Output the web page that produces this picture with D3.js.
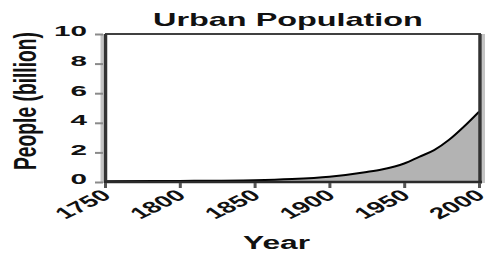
<!DOCTYPE html>
<html><head><meta charset="utf-8">
<script src="https://cdn.jsdelivr.net/npm/d3@7"></script>
<style>body{margin:0;background:#fff}svg{display:block}text{font-family:"Liberation Sans",Arial,sans-serif;font-weight:bold;fill:#111}</style>
</head><body>
<svg id="c" width="491" height="253"></svg>
<script>
const title = "Urban Population";
const xTitle = "Year";
const yTitle = "People (billion)";
const years = [1750, 1800, 1850, 1875, 1900, 1925, 1935, 1950, 1960, 1970, 1980, 1990, 2000];
const population = [0.05, 0.07, 0.12, 0.2, 0.36, 0.68, 0.85, 1.25, 1.7, 2.15, 2.85, 3.75, 4.75];
const xTicks = [1750, 1800, 1850, 1900, 1950, 2000];
const yTicks = [0, 2, 4, 6, 8, 10];

const svg = d3.select("#c");
const L = 105, R = 479, T = 34, B = 182;
const x = d3.scaleLinear().domain([1750, 2000]).range([L, R]);
const y = d3.scaleLinear().domain([0, 10]).range([B, T]);
const data = years.map((yr, i) => ({yr, v: population[i]}));

// area + line
svg.append("path").datum(data)
  .attr("d", d3.area().x(d => x(d.yr)).y0(y(0)).y1(d => y(d.v)).curve(d3.curveMonotoneX))
  .attr("fill", "#b3b3b3");
svg.append("path").datum(data)
  .attr("d", d3.line().x(d => x(d.yr)).y(d => y(d.v)).curve(d3.curveMonotoneX))
  .attr("fill", "none").attr("stroke", "#000").attr("stroke-width", 2);

// frame
svg.append("line").attr("x1", L).attr("x2", R + 2).attr("y1", T).attr("y2", T).attr("stroke", "#000").attr("stroke-width", 1.6);
svg.append("line").attr("x1", L - 3).attr("x2", L - 3).attr("y1", T).attr("y2", B + 1).attr("stroke", "#c4c4c4").attr("stroke-width", 3);
svg.append("line").attr("x1", L + 0.5).attr("x2", L + 0.5).attr("y1", T).attr("y2", B + 1).attr("stroke", "#333").attr("stroke-width", 3.5);
svg.append("line").attr("x1", R + 4.5).attr("x2", R + 4.5).attr("y1", T).attr("y2", B + 1).attr("stroke", "#c4c4c4").attr("stroke-width", 3);
svg.append("line").attr("x1", R + 1).attr("x2", R + 1).attr("y1", T).attr("y2", B + 1.5).attr("stroke", "#333").attr("stroke-width", 3.5);
svg.append("line").attr("x1", L - 1).attr("x2", R + 3).attr("y1", B).attr("y2", B).attr("stroke", "#2a2a2a").attr("stroke-width", 2.5);

// y axis ticks
const yAxis = d3.axisLeft(y).tickValues(yTicks).tickSize(0).tickFormat(d3.format("d"));
const yg = svg.append("g").attr("transform", `translate(${L - 2},0)`).call(yAxis);
yg.select(".domain").remove();
yg.selectAll(".tick text").remove();
yg.selectAll(".tick").append("line").attr("x1", -8).attr("x2", 0).attr("stroke", "#8a8a8a").attr("stroke-width", 2);

// y tick labels, stretched horizontally
svg.append("g").selectAll("text").data(yTicks).join("text")
  .text(d => d3.format("d")(d))
  .attr("font-size", 14).attr("text-anchor", "end").attr("dy", "0.35em")
  .each(function(d) {
    const t = d3.select(this);
    const w = this.getComputedTextLength();
    const target = 16.5 * String(d).length;
    t.attr("transform", `translate(87,${y(d) - 2.5}) scale(${target / w},1)`);
  });

// x axis ticks & labels
const xAxis = d3.axisBottom(x).tickValues(xTicks).tickSize(0).tickFormat(d3.format("d"));
const xg = svg.append("g").attr("transform", `translate(0,${B + 1})`).call(xAxis);
xg.select(".domain").remove();
xg.selectAll(".tick").append("line").attr("y1", 0).attr("y2", 5).attr("stroke", "#555").attr("stroke-width", 3);
xg.selectAll(".tick text").attr("fill", "#111").attr("font-size", 16)
  .attr("x", 0).attr("y", 0).attr("dy", 0).attr("text-anchor", "end")
  .attr("transform", "translate(7,14) scale(1.73,1) rotate(-40)");

// titles
function stretched(txt, cx, by, size, width) {
  const t = svg.append("text").text(txt).attr("font-size", size).attr("text-anchor", "middle");
  const w = t.node().getComputedTextLength();
  t.attr("transform", `translate(${cx},${by}) scale(${width / w},1)`);
  return t;
}
stretched(title, 288, 26, 18, 270);
stretched(xTitle, 276.5, 249, 19, 67);
svg.append("text").text(yTitle).attr("font-size", 18).attr("text-anchor", "middle")
  .attr("textLength", 138).attr("lengthAdjust", "spacingAndGlyphs")
  .attr("transform", "translate(35.5,101) scale(1.7,1) rotate(-90)");
</script>
</body></html>
